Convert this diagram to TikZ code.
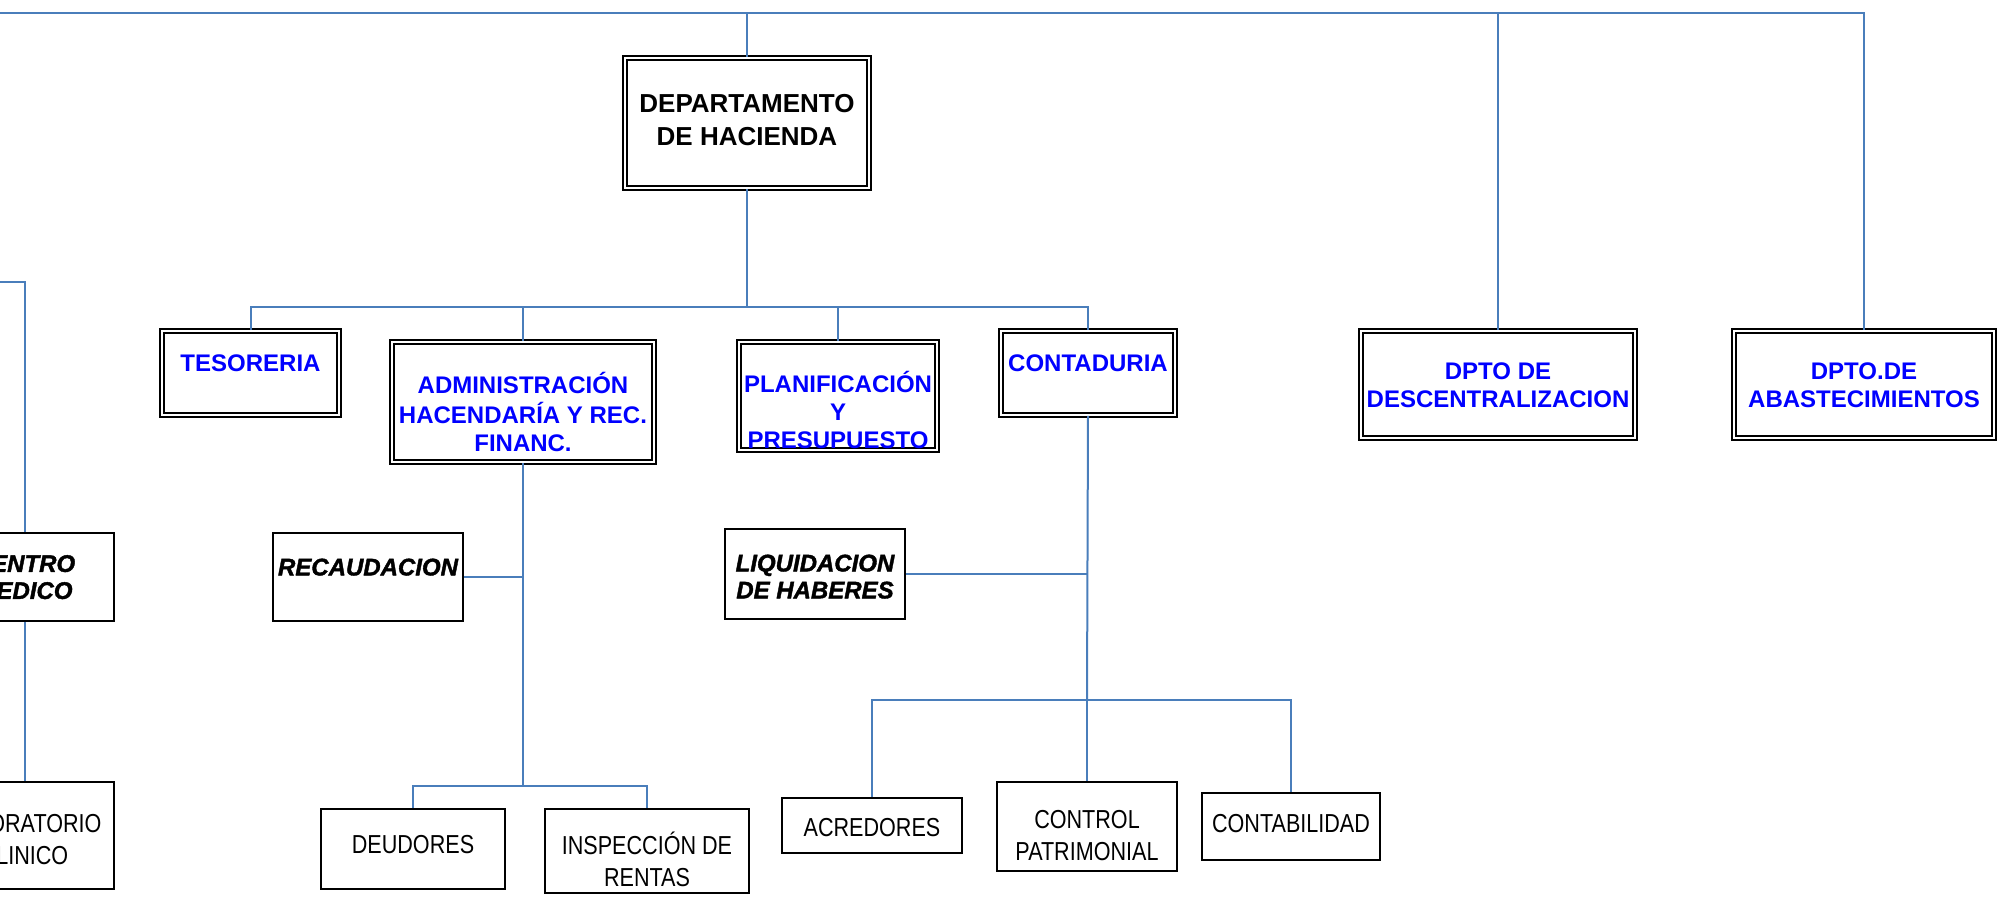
\documentclass[tikz,border=0pt]{standalone}
\usepackage{fontspec}
\setmainfont{Liberation Sans}
\newfontfamily\narrowfont[FakeStretch=0.83]{Liberation Sans}
\newfontfamily\heavyfont[FakeBold=1.6]{Liberation Sans Bold Italic}
\usetikzlibrary{positioning,calc}
\definecolor{linkblue}{RGB}{74,126,187}
\definecolor{unitblue}{RGB}{0,0,255}
\newcommand{\boxtxt}[2]{\raisebox{\dimexpr #1-4.5pt\relax}[0pt][0pt]{\begin{tabular}{@{}c@{}}#2\end{tabular}}}

\begin{document}
\begin{tikzpicture}[x=0.5pt,y=-0.5pt,
  link/.style={draw=linkblue,line width=1pt},
  dbox/.style={draw,double,line width=0.8pt,double distance=1.4pt,fill=white,inner sep=0pt,
    text=unitblue,font=\bfseries\fontsize{12}{14}\selectfont},
  ibox/.style={draw,line width=1.2pt,fill=white,inner sep=0pt,
    font=\heavyfont\fontsize{12}{13.5}\selectfont},
  sbox/.style={draw,line width=0.8pt,fill=white,inner sep=0pt,
    font=\narrowfont\fontsize{13}{16}\selectfont}]
\useasboundingbox (0,0) rectangle (1999,898);

% departamento y unidades
\node[dbox,text=black,font=\bfseries\fontsize{13}{16.5}\selectfont,
  minimum width=122pt,minimum height=65pt] (dept) at (747,123) {\boxtxt{1.75pt}{DEPARTAMENTO\\DE HACIENDA}};
\node[dbox,minimum width=88.5pt,minimum height=42pt] (tes) at (250.5,373) {\boxtxt{5pt}{TESORERIA}};
\node[dbox,minimum width=131pt,minimum height=60pt] (adm) at (523,402) {\boxtxt{-5.5pt}{ADMINISTRACIÓN\\HACENDARÍA Y REC.\\FINANC.}};
\node[dbox,minimum width=99pt,minimum height=54pt] (pla) at (838,396) {\boxtxt{-7.5pt}{PLANIFICACIÓN\\Y\\PRESUPUESTO}};
\node[dbox,minimum width=87pt,minimum height=42pt] (con) at (1088,373) {\boxtxt{5pt}{CONTADURIA}};
\node[dbox,minimum width=137pt,minimum height=53.5pt] (des) at (1498,384.5) {\boxtxt{0pt}{DPTO DE\\DESCENTRALIZACION}};
\node[dbox,minimum width=130pt,minimum height=53.5pt] (aba) at (1864,384.5) {\boxtxt{0pt}{DPTO.DE\\ABASTECIMIENTOS}};

% secciones
\node[ibox,minimum width=89.3pt,minimum height=43.8pt] (cmed) at (24.5,577) {\boxtxt{0pt}{CENTRO\\MEDICO}};
\node[ibox,minimum width=94.8pt,minimum height=43.8pt] (rec) at (368,577) {\boxtxt{5pt}{RECAUDACION}};
\node[ibox,minimum width=89.8pt,minimum height=44.8pt] (liq) at (815,574) {\boxtxt{-1.25pt}{LIQUIDACION\\DE HABERES}};

% oficinas
\node[sbox,minimum width=89.7pt,minimum height=53.7pt] (lab) at (24.5,835.5) {\boxtxt{-2pt}{LABORATORIO\\CLINICO}};
\node[sbox,minimum width=92.2pt,minimum height=40.2pt] (deu) at (413,849) {\boxtxt{2.5pt}{DEUDORES}};
\node[sbox,minimum width=102.2pt,minimum height=42.2pt] (ins) at (647,851) {\boxtxt{-5pt}{INSPECCIÓN DE\\RENTAS}};
\node[sbox,minimum width=90.2pt,minimum height=27.7pt] (acr) at (872,825.5) {\boxtxt{-1pt}{ACREDORES}};
\node[sbox,minimum width=90.2pt,minimum height=44.7pt] (ctl) at (1087,826.5) {\boxtxt{-4.5pt}{CONTROL\\PATRIMONIAL}};
\node[sbox,minimum width=89.2pt,minimum height=33.7pt] (ctb) at (1291,826.5) {\boxtxt{1.5pt}{CONTABILIDAD}};

% lineas
\coordinate (top) at (0,13);
\coordinate (lft) at (0,282);
\coordinate (hub) at (747,307);
\coordinate (admhub) at (523,786);
\coordinate (conhub) at (1087,700);

\draw[link] (top) -| (aba.north);
\foreach \n in {dept,des}
  \draw[link] (\n.north |- top) -- (\n.north);
\draw[link] (dept.south) -- (hub);
\draw[link] (tes.north) |- (hub) -| (con.north);
\foreach \n in {adm,pla}
  \draw[link] (\n.north |- hub) -- (\n.north);

\draw[link] (lft) -| (cmed.north);
\draw[link] (cmed.south) -- (lab.north);

\draw[link] (adm.south) -- (admhub);
\draw[link] (rec.east) -- (rec.east -| admhub);
\draw[link] (deu.north) |- (admhub) -| (ins.north);

\draw[link] (con.south) -- (conhub);
\draw[link,line width=0.6pt] (liq.east) -- (liq.east -| conhub);
\draw[link] (acr.north) |- (conhub) -| (ctb.north);
\draw[link] (conhub) -- (ctl.north);
\end{tikzpicture}
\end{document}
